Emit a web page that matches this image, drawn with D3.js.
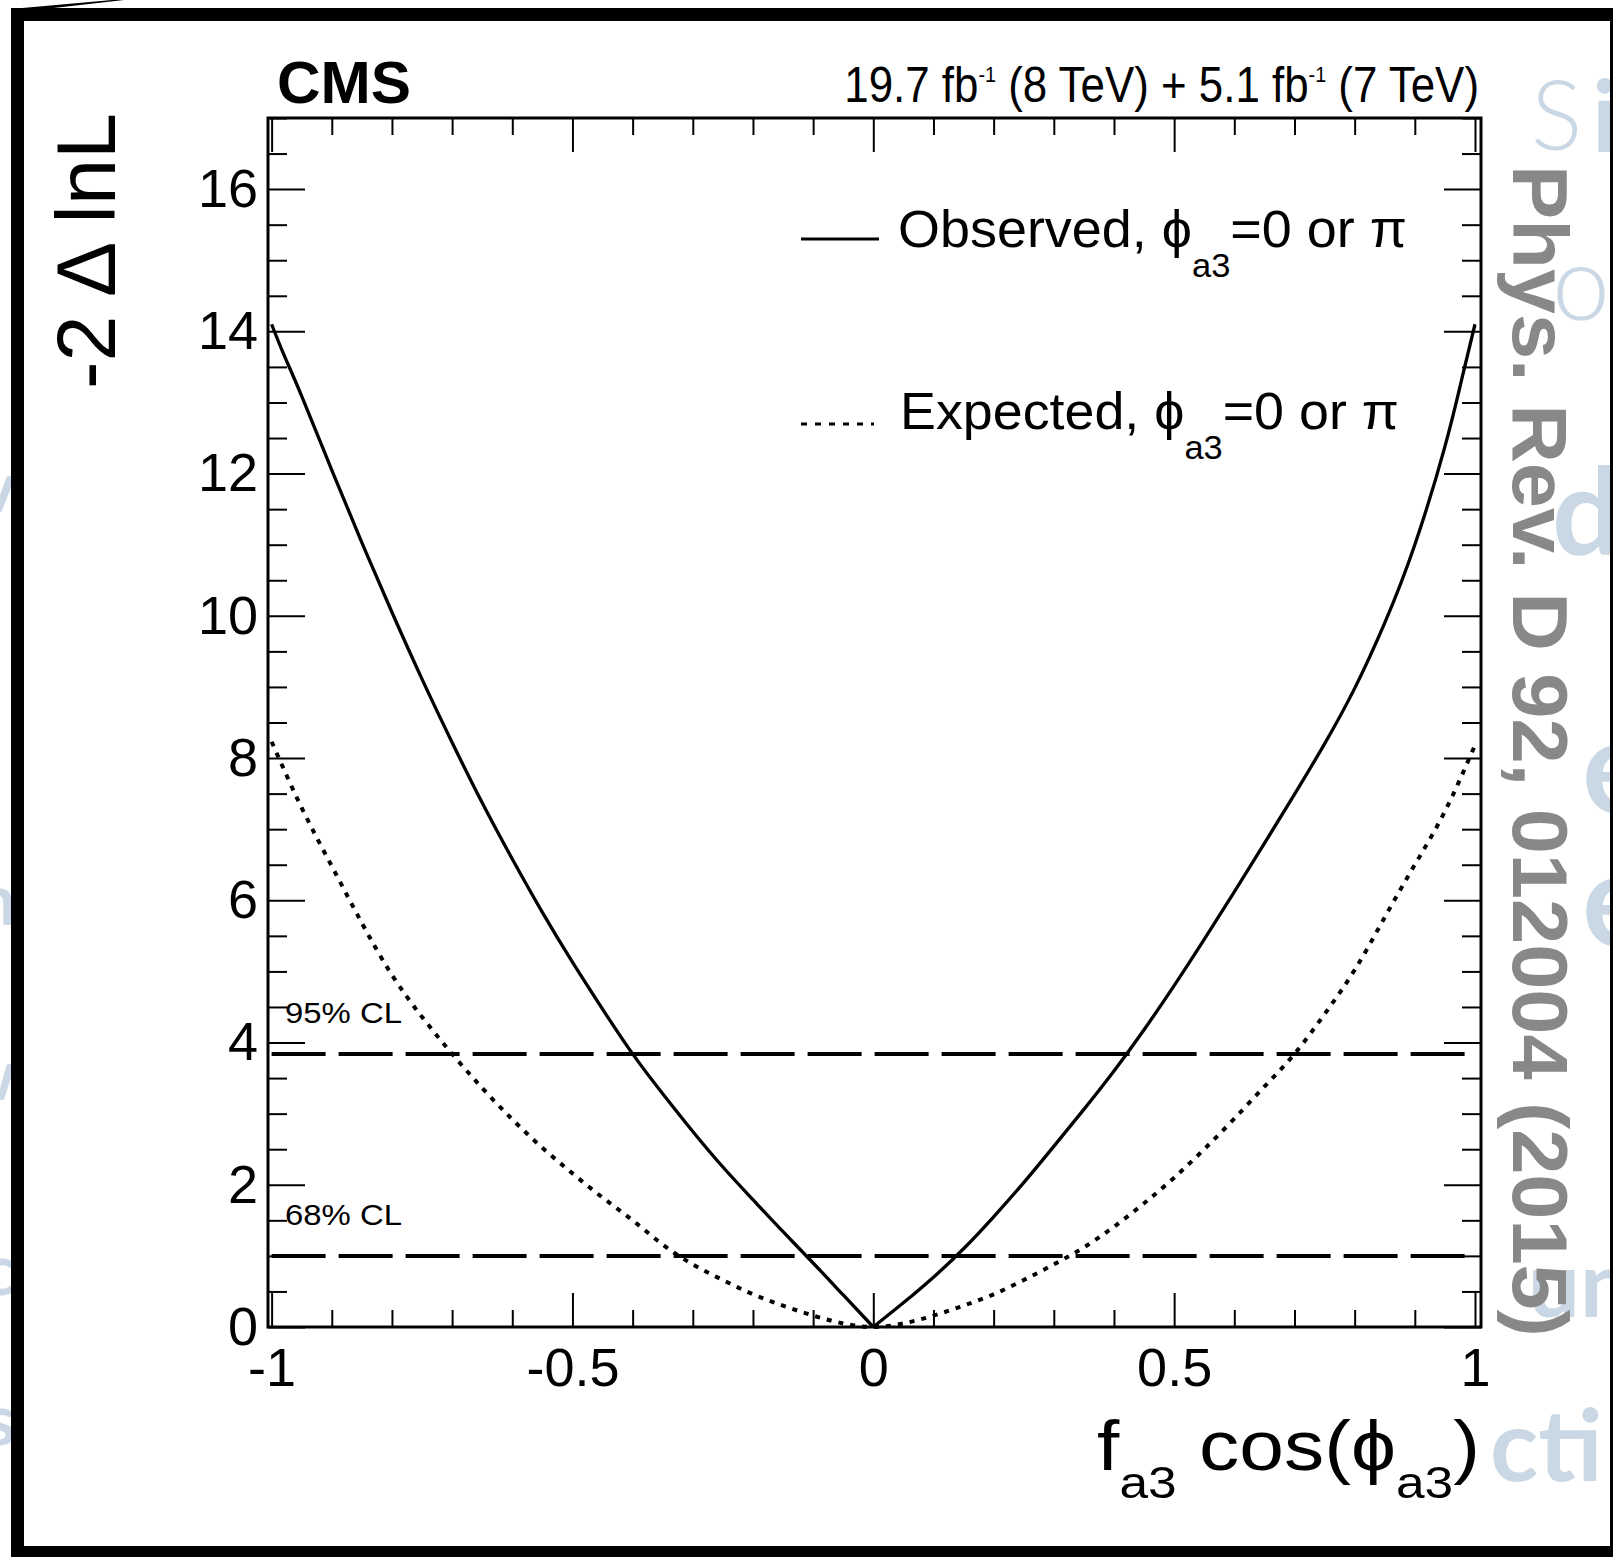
<!DOCTYPE html>
<html>
<head>
<meta charset="utf-8">
<script src="https://cdn.jsdelivr.net/npm/d3@7"></script>
<style>
  body { margin: 0; background: #fff; }
  svg { display: block; }
  text { font-family: "Liberation Sans", Arial, Helvetica, sans-serif; }
</style>
</head>
<body>
<svg id="chart" width="1613" height="1557"></svg>
<script>
// ---- data ----
// observed -2 delta lnL scan (solid), cusp at 0
const obsX = [-1.0, -0.98, -0.95, -0.9, -0.85, -0.8, -0.75, -0.7, -0.65, -0.6, -0.55, -0.5, -0.45, -0.4,
              -0.35, -0.3, -0.25, -0.2, -0.15, -0.1, -0.05, 0,
              0.05, 0.1, 0.15, 0.2, 0.25, 0.3, 0.35, 0.4, 0.45, 0.5, 0.55, 0.6, 0.65, 0.7,
              0.75, 0.8, 0.85, 0.9, 0.95, 0.98, 1.0];
const obsY = [14.1, 13.68, 13.09, 12.05, 11.03, 10.05, 9.11, 8.22, 7.37, 6.58, 5.83, 5.13, 4.47, 3.84,
              3.28, 2.75, 2.25, 1.79, 1.34, 0.9, 0.45, 0,
              0.34, 0.7, 1.1, 1.55, 2.03, 2.54, 3.06, 3.6, 4.18, 4.8, 5.45, 6.12, 6.8, 7.49,
              8.2, 8.98, 9.9, 11.0, 12.38, 13.4, 14.1];
// expected scan (dotted)
const expX = [-1.0, -0.95, -0.9, -0.85, -0.8, -0.75, -0.7, -0.65, -0.6, -0.55, -0.5, -0.45, -0.4,
              -0.35, -0.3, -0.25, -0.2, -0.15, -0.1, -0.05, 0,
              0.05, 0.1, 0.15, 0.2, 0.25, 0.3, 0.35, 0.4, 0.45, 0.5, 0.55, 0.6, 0.65, 0.7,
              0.75, 0.8, 0.85, 0.9, 0.95, 1.0];
const expY = [8.23, 7.3, 6.48, 5.68, 4.95, 4.36, 3.84, 3.36, 2.92, 2.52, 2.16, 1.82, 1.5,
              1.16, 0.88, 0.66, 0.46, 0.3, 0.16, 0.05, 0,
              0.05, 0.16, 0.3, 0.46, 0.66, 0.88, 1.12, 1.41, 1.74, 2.1, 2.5, 2.93, 3.38, 3.84,
              4.4, 5.02, 5.76, 6.5, 7.25, 8.18];

const xMajor = [-1, -0.5, 0, 0.5, 1];
const yMajor = [0, 2, 4, 6, 8, 10, 12, 14, 16];
const clLevels = [1.0, 3.84];
const clNames = ["68% CL", "95% CL"];
const legendNames = ["Observed", "Expected"];

const W = 1613, H = 1557;
const svg = d3.select("#chart");

// plot box
const pLeft = 268, pRight = 1481, pTop = 118, pBottom = 1327;
const x = d3.scaleLinear().domain([-1.006, 1.01]).range([pLeft, pRight]);
const y = d3.scaleLinear().domain([0, 17]).range([pBottom, pTop]);

// text helper: parts = [text, baseline shift, size factor]; optional stretch to a width
function richText(parent, parts, o) {
  const g = parent.append("g");
  const t = g.append("text")
    .attr("font-size", o.size)
    .attr("font-weight", o.weight || "normal")
    .attr("text-anchor", o.anchor || "start")
    .attr("fill", o.fill || "#000");
  if (o.family) t.style("font-family", o.family);
  let cur = 0;
  parts.forEach(p => {
    t.append("tspan").text(p[0])
      .attr("dy", p[1] - cur)
      .attr("font-size", o.size * (p[2] || 1));
    cur = p[1];
  });
  const w = t.node().getBBox().width;
  const s = o.width ? o.width / w : 1;
  g.attr("transform", `translate(${o.x},${o.y}) rotate(${o.rotate || 0}) scale(${s},1)`);
  return g;
}

svg.append("rect").attr("width", W).attr("height", H).attr("fill", "#fff");

// faint letters of the page behind the figure
const ghost = svg.append("g");
const gFill = "#c9d8e4", gFam = "Lato, 'Open Sans', sans-serif";
[["S", 1531, 150, 96, 300], ["i", 1592, 152, 100, "bold"], ["o", 1552, 320, 104, 300],
 ["d", 1552, 555, 120, "bold"], ["e", 1582, 813, 130, "bold"], ["e", 1582, 946, 130, "bold"],
 ["un", 1528, 1317, 92, "bold"], ["cti", 1490, 1481, 100, "bold"]].forEach(d => {
  richText(ghost, [[d[0], 0, 1]], {x: d[1], y: d[2], size: d[3], weight: d[4], fill: gFill, family: gFam});
});
[["v", 512], ["m", 925], ["w", 1100], ["c", 1295], ["s", 1445]].forEach(d => {
  richText(ghost, [[d[0], 0, 1]], {x: 16, y: d[1], size: 70, weight: "bold", anchor: "end", fill: gFill, family: gFam});
});

// picture frame
const frame = svg.append("g").attr("fill", "#000");
frame.append("rect").attr("x", 11).attr("y", 8).attr("width", 13).attr("height", H - 8);
frame.append("rect").attr("x", 11).attr("y", 8).attr("width", W - 11).attr("height", 13);
frame.append("rect").attr("x", 11).attr("y", 1546).attr("width", W - 11).attr("height", 11);
frame.append("rect").attr("x", 1610).attr("y", 8).attr("width", 3).attr("height", H - 8);
frame.append("polygon").attr("points", "11,9 112,0 124,0 45,9");

// ---- axes (ROOT style: ticks inside, mirrored on top/right) ----
const xMinor = d3.range(-10, 11).map(i => i / 10).filter(v => !xMajor.includes(v));
const yMinor = d3.range(1, 35).map(i => i / 2).filter(v => !yMajor.includes(v));
const axes = svg.append("g");

function styleAxis(g) {
  g.select(".domain").remove();
  g.selectAll(".tick line").attr("stroke", "#000").attr("stroke-width", 2);
  g.selectAll(".tick text").attr("fill", "#000")
    .style("font-family", "'Liberation Sans', Arial, sans-serif").attr("font-size", 54);
  g.attr("font-family", null).attr("font-size", null);
}

axes.append("g").attr("transform", `translate(0,${pBottom})`)
  .call(d3.axisBottom(x).tickValues(xMajor).tickSize(-34).tickPadding(21).tickFormat(d => String(d)))
  .call(styleAxis);
axes.append("g").attr("transform", `translate(0,${pBottom})`)
  .call(d3.axisBottom(x).tickValues(xMinor).tickSize(-17).tickFormat(""))
  .call(styleAxis);
axes.append("g").attr("transform", `translate(0,${pTop})`)
  .call(d3.axisTop(x).tickValues(xMajor).tickSize(-34).tickFormat(""))
  .call(styleAxis);
axes.append("g").attr("transform", `translate(0,${pTop})`)
  .call(d3.axisTop(x).tickValues(xMinor).tickSize(-17).tickFormat(""))
  .call(styleAxis);
axes.append("g").attr("transform", `translate(${pLeft},0)`)
  .call(d3.axisLeft(y).tickValues(yMajor).tickSize(-37).tickPadding(10).tickFormat(d => String(d)))
  .call(styleAxis);
axes.append("g").attr("transform", `translate(${pLeft},0)`)
  .call(d3.axisLeft(y).tickValues(yMinor).tickSize(-19).tickFormat(""))
  .call(styleAxis);
axes.append("g").attr("transform", `translate(${pRight},0)`)
  .call(d3.axisRight(y).tickValues(yMajor).tickSize(-37).tickFormat(""))
  .call(styleAxis);
axes.append("g").attr("transform", `translate(${pRight},0)`)
  .call(d3.axisRight(y).tickValues(yMinor).tickSize(-19).tickFormat(""))
  .call(styleAxis);

axes.append("rect")
  .attr("x", pLeft).attr("y", pTop)
  .attr("width", pRight - pLeft).attr("height", pBottom - pTop)
  .attr("fill", "none").attr("stroke", "#000").attr("stroke-width", 3);

// ---- confidence level lines ----
const cl = svg.append("g");
cl.selectAll("line").data(clLevels).join("line")
  .attr("x1", x(-1)).attr("x2", x(1))
  .attr("y1", d => y(d)).attr("y2", d => y(d))
  .attr("stroke", "#000").attr("stroke-width", 4)
  .attr("stroke-dasharray", "54,13");
clLevels.forEach((lv, i) => {
  richText(cl, [[clNames[i], 0, 1]], {x: pLeft + 17, y: y(lv) - 31, size: 30, width: 117});
});

// ---- curves ----
const line = d3.line().x(d => x(d[0])).y(d => y(d[1])).curve(d3.curveNatural);
const obs = d3.zip(obsX, obsY);
const exp = d3.zip(expX, expY);
const curves = svg.append("g").attr("fill", "none").attr("stroke", "#000");
curves.append("path").attr("d", line(exp))
  .attr("stroke-width", 4).attr("stroke-dasharray", "5,7");
curves.append("path").attr("d", line(obs.filter(d => d[0] <= 0))).attr("stroke-width", 3.3);
curves.append("path").attr("d", line(obs.filter(d => d[0] >= 0))).attr("stroke-width", 3.3);

// ---- legend ----
const leg = svg.append("g");
const phi = "\u03d5";
const legRows = [{y: 239, dash: null, tx: 898, ty: 247, w: 509},
                 {y: 424, dash: "6,8", tx: 900, ty: 429, w: 499}];
legRows.forEach((r, i) => {
  leg.append("line").attr("x1", 801).attr("x2", i === 0 ? 879 : 874)
    .attr("y1", r.y).attr("y2", r.y)
    .attr("stroke", "#000").attr("stroke-width", i === 0 ? 3 : 2.8)
    .attr("stroke-dasharray", r.dash);
  richText(leg, [[legendNames[i] + ", " + phi, 0, 1], ["a3", 30, 0.64], ["=0 or \u03c0", 0, 1]],
    {x: r.tx, y: r.ty, size: 52, width: r.w});
});

// ---- titles ----
const titles = svg.append("g");
richText(titles, [["CMS", 0, 1]], {x: 277, y: 103, size: 60, weight: "bold", width: 134});
richText(titles, [["19.7 fb", 0, 1], ["-1", -20, 0.45], [" (8 TeV) + 5.1 fb", 0, 1], ["-1", -20, 0.45], [" (7 TeV)", 0, 1]],
  {x: 1479, y: 102, size: 50, anchor: "end", width: 635});
richText(titles, [["-2 \u0394 lnL", 0, 1]], {x: 115, y: 389, size: 84, rotate: -90, width: 276});
richText(titles, [["f", 0, 1], ["a3", 28, 0.64], [" cos(" + phi, 0, 1], ["a3", 28, 0.64], [")", 0, 1]],
  {x: 1480, y: 1470, size: 70, anchor: "end", width: 383});

// journal stamp
richText(svg, [["Phys. Rev. D 92, 012004 (2015)", 0, 1]],
  {x: 1513, y: 165, size: 77, weight: "bold", rotate: 90, fill: "#888888", width: 1172});
</script>
</body>
</html>
